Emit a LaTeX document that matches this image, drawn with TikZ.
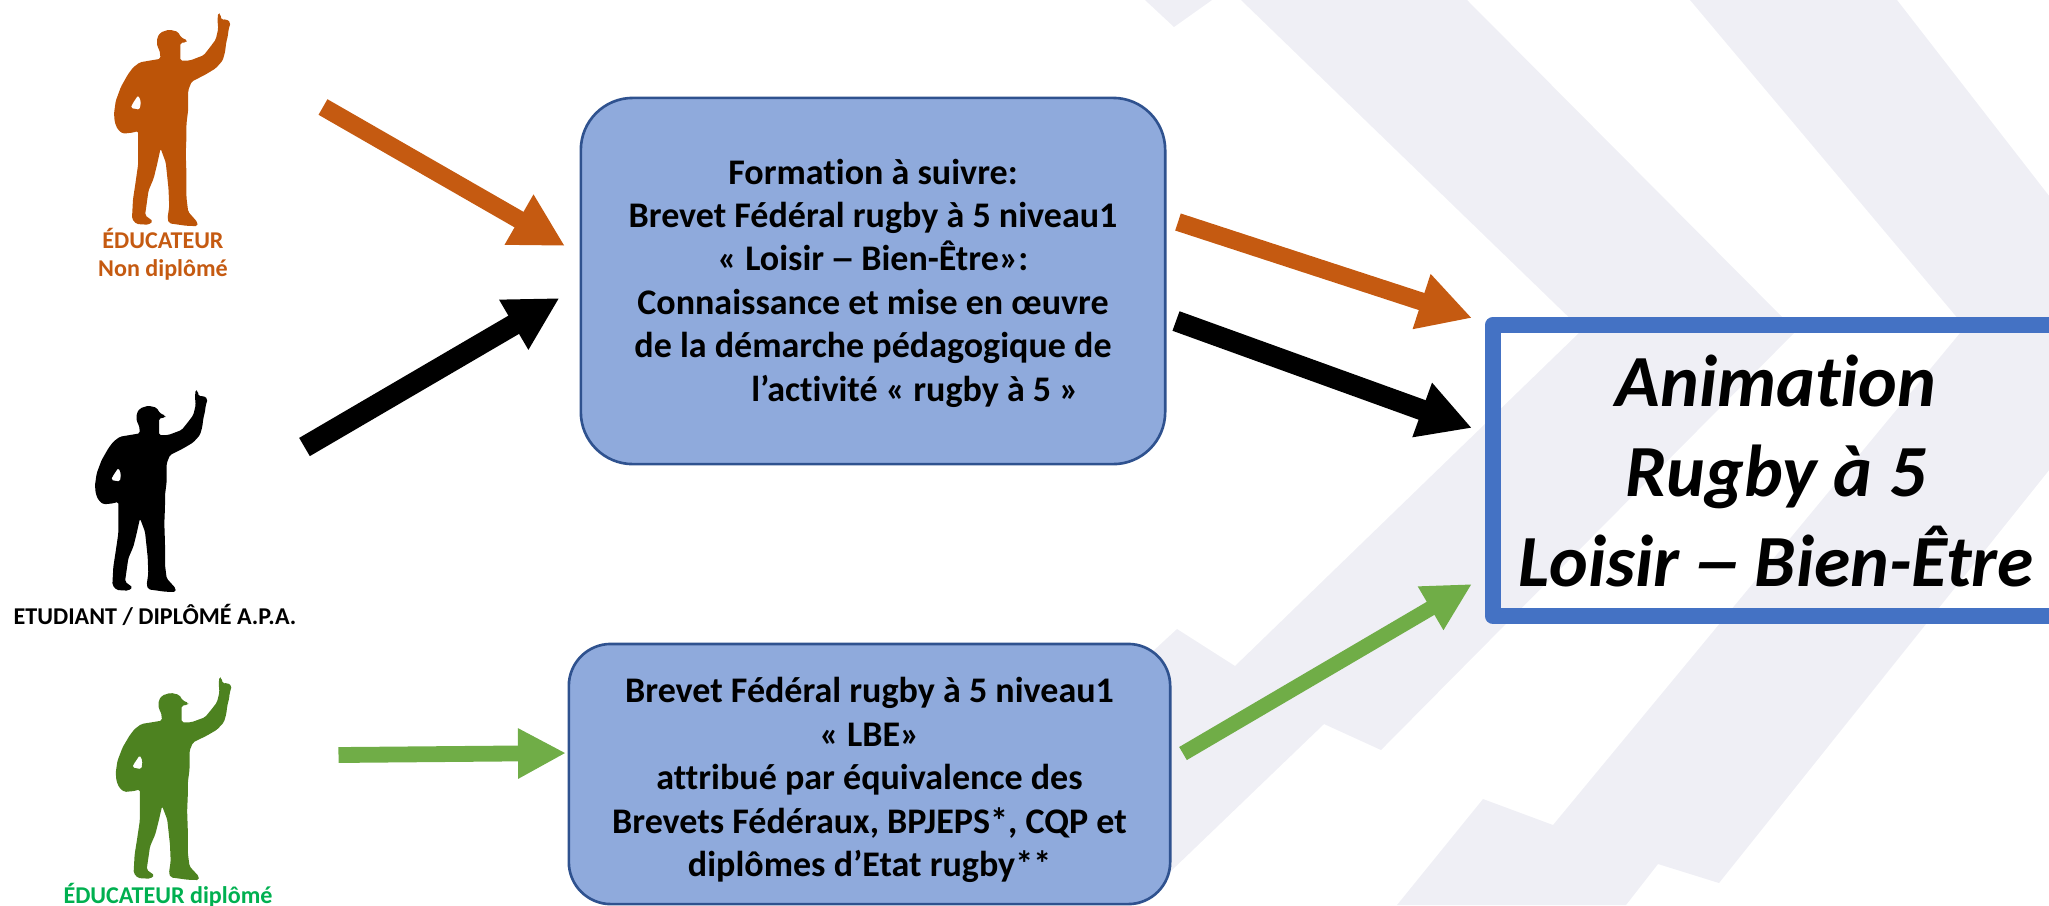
\documentclass[tikz,border=0pt]{standalone}
\usepackage{fontspec}
\setmainfont{Carlito}[Ligatures=NoCommon]
\usetikzlibrary{arrows.meta}
\definecolor{stripe}{HTML}{EFEFF5}
\definecolor{boxfill}{HTML}{8FAADC}
\definecolor{boxline}{HTML}{2F528F}
\definecolor{goalline}{HTML}{4472C4}
\definecolor{arroworange}{HTML}{C55A11}
\definecolor{arrowgreen}{HTML}{70AD47}
\definecolor{figorange}{HTML}{BC5408}
\definecolor{figgreen}{HTML}{4D8220}
\definecolor{labgreen}{HTML}{00B050}
\newcommand\playerpath{(587,29) -- (593,33) -- (597,50) -- (610,47) -- (623,57) -- (617,77) -- (615,95) -- (610,115) -- (607,140) -- (600,165) -- (580,187) -- (550,205) -- (510,225) -- (500,250) -- (500,305) -- (495,345) -- (495,380) -- (493,430) -- (495,490) -- (495,555) -- (500,595) -- (527,625) -- (527,636) -- (495,635) -- (445,628) -- (440,615) -- (445,580) -- (443,530) -- (435,455) -- (420,415) -- (410,460) -- (400,500) -- (385,535) -- (380,570) -- (375,605) -- (398,622) -- (385,632) -- (350,630) -- (337,615) -- (340,560) -- (347,515) -- (355,460) -- (355,365) -- (340,370) -- (310,373) -- (295,360) -- (287,340) -- (285,315) -- (290,280) -- (305,240) -- (325,205) -- (340,185) -- (360,170) -- (420,160) -- (417,135) -- (410,125) -- (410,100) -- (420,85) -- (445,77) -- (470,83) -- (480,100) -- (497,107) -- (495,113) -- (477,115) -- (477,165) -- (505,165) -- (545,150) -- (565,125) -- (580,105) -- (587,75) -- (585,50) -- cycle (355,263) -- (337,290) -- (333,300) -- (360,305) -- (363,280) -- cycle}
\newcommand\player[5]{\begin{scope}[shift={(#1,#2)},x=#3*0.01cm/3,y=-#4*0.01cm/3]\fill[#5,even odd rule,rounded corners=0.5pt] \playerpath;\end{scope}}
\newcommand\longdash{\hspace{-0.06em}\scalebox{1.4}[1]{–}\hspace{-0.06em}}
\tikzset{
  x=0.01cm,y=-0.01cm,
  band/.style={fill=stripe,draw=none},
  bluebox/.style={draw=boxline,line width=0.75pt,fill=boxfill,inner sep=0pt},
  boxtext/.style={align=center,inner sep=0pt,font=\fontsize{10.25}{12.35}\selectfont\bfseries},
  goal/.style={draw=goalline,line width=4.55pt,line join=round,minimum width=5.8cm,minimum height=2.91cm,inner sep=0pt},
  goaltext/.style={align=center,inner sep=0pt,font=\fontsize{20.9}{25.5}\selectfont\bfseries\itshape},
  figlabel/.style={align=center,inner sep=0pt,font=\fontsize{6.85}{8}\selectfont\bfseries},
  fatarrow/.style={line width=#1,-{Triangle[length=5.3mm,width=5.4mm]}},
  thinfatarrow/.style={line width=#1,-{Triangle[length=4.8mm,width=4.7mm]}},
}
\begin{document}
\begin{tikzpicture}
\useasboundingbox (0,0) rectangle (2049,905);
\clip (0,0) rectangle (2049,905);
% background bands
\path[band] (1145,0) -- (1174,27) -- (1212,0) -- cycle;
\path[band] (1241,0) -- (1582,330) -- (1235,666) -- (1177,629) -- (1100,700) -- (1100,905) -- (1140,905) -- (1171,871) -- (1324,724) -- (1381,750) -- (1796,331) -- (1467,0) -- cycle;
\path[band] (1690,0) -- (1965,327) -- (1553,825) -- (1483,799) -- (1397,905) -- (1626,905) -- (1658,864) -- (1719,883) -- (2157,335) -- (1897,0) -- cycle;
% silhouettes
\player{15.7}{2.5}{1.035}{1.055}{figorange}
\player{0}{380}{1}{1}{black}
\player{17.9}{667}{1.03}{1.005}{figgreen}
% figure labels
\node[figlabel,text=arroworange] (lab1) at (163,254) {ÉDUCATEUR\\Non diplômé};
\node[figlabel,text=black] (lab2) at (155,615) {ETUDIANT / DIPLÔMÉ A.P.A.};
\node[figlabel,text=labgreen] (lab3) at (168,895) {ÉDUCATEUR diplômé};
% boxes
\node[bluebox,minimum width=5.84cm,minimum height=3.66cm,rounded corners=0.52cm] (form) at (873,281) {};
\node[boxtext] (formtxt) at (873,283)
 {Formation à suivre:\\Brevet Fédéral rugby à 5 niveau1\\« Loisir \longdash{} Bien-Être»:\\Connaissance et mise en œuvre\\de la démarche pédagogique de\\\hspace*{0.84cm}l’activité « rugby à 5 »};
\node[bluebox,minimum width=6.01cm,minimum height=2.6cm,rounded corners=0.42cm] (equiv) at (869.5,774) {};
\node[boxtext] (equivtxt) at (869.5,780)
 {Brevet Fédéral rugby à 5 niveau1\\« LBE»\\attribué par équivalence des\\Brevets Fédéraux, BPJEPS*, CQP et\\diplômes d’Etat rugby**};
\node[goal] (goalbox) at (1783,470.5) {};
\node[goaltext] (goaltxt) at (1776,471) {Animation\\Rugby à 5\\Loisir \longdash{} Bien-Être};
% arrow ends
\coordinate (a1s) at (323,107); \coordinate (a1e) at (565,246);
\coordinate (a2s) at (304.5,447); \coordinate (a2e) at (559.5,298);
\coordinate (a3s) at (338.5,755); \coordinate (a3e) at (566,753);
\coordinate (a4s) at (1178,222); \coordinate (a4e) at (1472,318);
\coordinate (a5s) at (1176,321); \coordinate (a5e) at (1472,428);
\coordinate (a6s) at (1183,753.5); \coordinate (a6e) at (1472,584);
\draw[fatarrow=5.1pt,arroworange] (a1s) -- (a1e);
\draw[fatarrow=6pt,black] (a2s) -- (a2e);
\draw[thinfatarrow=4.5pt,arrowgreen] (a3s) -- (a3e);
\draw[fatarrow=5.1pt,arroworange] (a4s) -- (a4e);
\draw[fatarrow=5.9pt,black] (a5s) -- (a5e);
\draw[thinfatarrow=4.3pt,arrowgreen] (a6s) -- (a6e);
\end{tikzpicture}
\end{document}
